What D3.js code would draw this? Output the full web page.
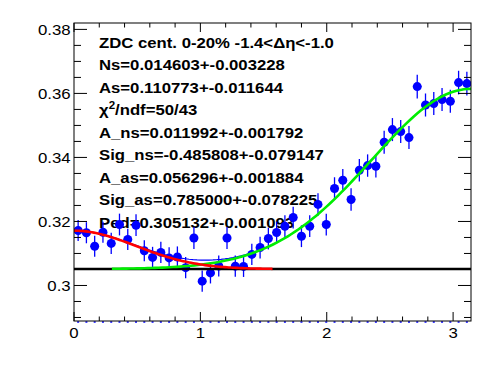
<!DOCTYPE html>
<html>
<head>
<meta charset="utf-8">
<script src="https://cdn.jsdelivr.net/npm/d3@7"></script>
<style>
  body { margin: 0; background: #fff; }
  svg { display: block; }
  text { font-family: "Liberation Sans", Arial, Helvetica, sans-serif; }
</style>
</head>
<body>
<svg id="chart"></svg>
<script>
// Chart configuration
const W = 496, H = 374;
const margin = { top: 23, right: 25, bottom: 53, left: 74 };
const width = W - margin.left - margin.right;
const height = H - margin.top - margin.bottom;

// 48 bins over [0, pi]
const nBins = 48;
const yValues = [
  0.31717, 0.31648, 0.31227, 0.31664, 0.31314, 0.31904, 0.31439, 0.31883,
  0.31086, 0.30877, 0.31033, 0.30862, 0.30890, 0.30556, 0.31483, 0.30134,
  0.30393, 0.30609, 0.31483, 0.30603, 0.30596, 0.30971, 0.31186, 0.31467,
  0.31655, 0.31851, 0.32123, 0.31539, 0.31851, 0.32532, 0.31904, 0.33031,
  0.33287, 0.32685, 0.33600, 0.33746, 0.33725, 0.34474, 0.34870, 0.34808,
  0.34620, 0.36213, 0.35638, 0.35682, 0.35807, 0.35754, 0.36338, 0.36306
];
const yErrors = [
  0.0033, 0.0033, 0.0033, 0.0033, 0.0033, 0.0034, 0.0033, 0.0034,
  0.0033, 0.0033, 0.0033, 0.0033, 0.0033, 0.0033, 0.0034, 0.0033,
  0.0033, 0.0033, 0.0034, 0.0033, 0.0033, 0.0033, 0.0034, 0.0034,
  0.0034, 0.0034, 0.0034, 0.0034, 0.0034, 0.0035, 0.0034, 0.0035,
  0.0035, 0.0035, 0.0035, 0.0035, 0.0035, 0.0036, 0.0036, 0.0036,
  0.0036, 0.0037, 0.0036, 0.0036, 0.0036, 0.0036, 0.0037, 0.0037
];

// fit parameters
const ped = 0.305132;
const aNs = 0.011992, sigNs = -0.485808;
const aAs = 0.056296, sigAs = 0.785;

const xTicks = [0, 1, 2, 3];
const xTickLabels = ["0", "1", "2", "3"];
const yTicks = [0.30, 0.32, 0.34, 0.36, 0.38];
const yTickLabels = ["0.3", "0.32", "0.34", "0.36", "0.38"];

const labels = [
  "ZDC cent. 0-20% -1.4<\u0394\u03b7<-1.0",
  "Ns=0.014603+-0.003228",
  "As=0.110773+-0.011644",
  "CHI2",
  "A_ns=0.011992+-0.001792",
  "Sig_ns=-0.485808+-0.079147",
  "A_as=0.056296+-0.001884",
  "Sig_as=0.785000+-0.078225",
  "Ped=0.305132+-0.001093"
];

const binW = Math.PI / nBins;
const data = yValues.map((y, i) => ({ x: (i + 0.5) * binW, y, e: yErrors[i] }));

const svg = d3.select("#chart").attr("width", W).attr("height", H);
const g = svg.append("g").attr("transform", `translate(${margin.left},${margin.top})`);

const x = d3.scaleLinear().domain([0, Math.PI]).range([0, width]);
const y = d3.scaleLinear().domain([0.2889, 0.3820]).range([height, 0]);

svg.append("defs").append("clipPath").attr("id", "clip")
  .append("rect").attr("width", width).attr("height", height);

// text block (drawn under the points, as in the original)
const txt = g.append("g").attr("font-weight", "bold").attr("font-size", 15.2);
labels.forEach((s, i) => {
  const t = txt.append("text")
    .attr("transform", `translate(25,${24.7 + i * 22.5}) scale(1.1,1)`);
  if (s === "CHI2") {
    t.append("tspan").text("\u03c7");
    t.append("tspan").attr("font-size", 10.5).attr("dy", -6).text("2");
    t.append("tspan").attr("dy", 6).text("/ndf=50/43");
  } else {
    t.text(s);
  }
});

// points with error bars
const pts = g.append("g").attr("clip-path", "url(#clip)");
pts.selectAll(".ey").data(data).join("line")
  .attr("x1", d => x(d.x)).attr("x2", d => x(d.x))
  .attr("y1", d => y(d.y - d.e)).attr("y2", d => y(d.y + d.e))
  .attr("stroke", "#0000ff").attr("stroke-width", 1.3);
pts.selectAll(".ex").data(data).join("line")
  .attr("x1", d => x(d.x - binW / 2)).attr("x2", d => x(d.x + binW / 2))
  .attr("y1", d => y(d.y)).attr("y2", d => y(d.y))
  .attr("stroke", "#0000ff").attr("stroke-width", 1.3);
pts.selectAll("circle").data(data).join("circle")
  .attr("cx", d => x(d.x)).attr("cy", d => y(d.y))
  .attr("r", 4.5).attr("fill", "#0000ff");

// little blue dashes along the bottom edge
g.append("g").selectAll("line").data(data).join("line")
  .attr("x1", d => x(d.x) - 1).attr("x2", d => x(d.x) + 1)
  .attr("y1", height + 1).attr("y2", height + 1)
  .attr("stroke", "#0000ff").attr("stroke-width", 1.5);

// fit functions
const fNs = v => ped + aNs * Math.exp(-v * v / (2 * sigNs * sigNs));
const fAs = v => ped + aAs * Math.exp(-((v - Math.PI) ** 2) / (2 * sigAs * sigAs));
const fTot = v => fNs(v) + fAs(v) - ped;

function curve(f, lo, hi, color, w) {
  const pts = d3.range(0, 101).map(k => lo + (hi - lo) * k / 100);
  g.append("path")
    .datum(pts)
    .attr("clip-path", "url(#clip)")
    .attr("fill", "none")
    .attr("stroke", color)
    .attr("stroke-width", w)
    .attr("d", d3.line().x(v => x(v)).y(v => y(f(v))));
}

curve(() => ped, 0, Math.PI, "#000000", 2.6);
curve(fTot, 0, Math.PI, "#0000ff", 1.2);
curve(fAs, 0.3, Math.PI, "#00ee00", 2.6);
curve(fNs, 0, Math.PI / 2, "#ff0000", 2.6);

// frame
g.append("rect").attr("width", width).attr("height", height)
  .attr("fill", "none").attr("stroke", "#000").attr("stroke-width", 1);

// ticks, ROOT style: inside the frame on all four sides
const tk = g.append("g").attr("stroke", "#000").attr("stroke-width", 1);
const xMinor = d3.range(0, 3.15, 0.2).filter(v => Math.abs(v - Math.round(v)) > 1e-6);
const yMinor = d3.range(0.29, 0.3821, 0.005).filter(v => Math.abs(v * 50 - Math.round(v * 50)) > 1e-6);

function xTick(v, len) {
  tk.append("line").attr("x1", x(v)).attr("x2", x(v)).attr("y1", height).attr("y2", height - len);
  tk.append("line").attr("x1", x(v)).attr("x2", x(v)).attr("y1", 0).attr("y2", len);
}
function yTick(v, len) {
  tk.append("line").attr("x1", 0).attr("x2", len).attr("y1", y(v)).attr("y2", y(v));
  tk.append("line").attr("x1", width).attr("x2", width - len).attr("y1", y(v)).attr("y2", y(v));
}
xTicks.forEach(v => xTick(v, 9));
xMinor.forEach(v => xTick(v, 4.5));
yTicks.forEach(v => yTick(v, 13));
yMinor.forEach(v => yTick(v, 7));

// tick labels
const lab = g.append("g").attr("font-size", 15).attr("fill", "#000");
xTicks.forEach((v, i) => {
  lab.append("text")
    .attr("transform", `translate(${x(v)},${height + 17.3}) scale(1.12,1)`)
    .attr("text-anchor", "middle").text(xTickLabels[i]);
});
yTicks.forEach((v, i) => {
  lab.append("text")
    .attr("transform", `translate(-3.3,${y(v) + 6}) scale(1.12,1)`)
    .attr("text-anchor", "end").text(yTickLabels[i]);
});
</script>
</body>
</html>
